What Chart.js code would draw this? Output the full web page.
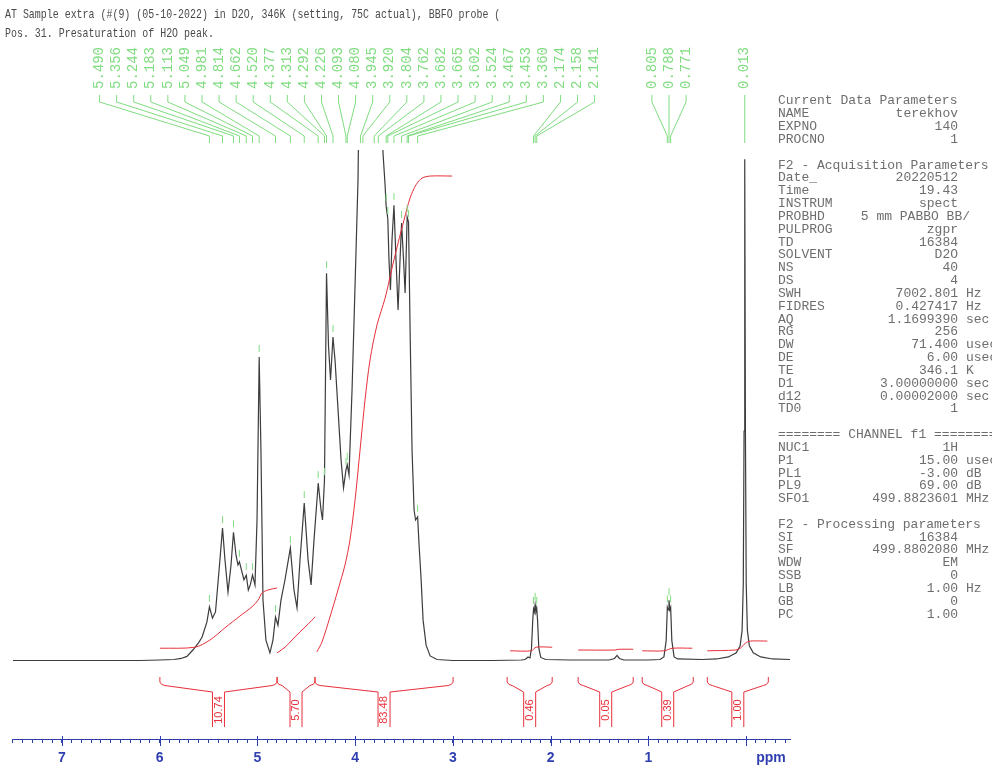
<!DOCTYPE html>
<html>
<head>
<meta charset="utf-8">
<script src="https://cdn.jsdelivr.net/npm/chart.js@4/dist/chart.umd.min.js"></script>
<style>
  html, body { margin: 0; padding: 0; background: #fff; }
  canvas { display: block; }
</style>
</head>
<body>
<canvas id="nmr" width="992" height="768"></canvas>
<script>
// 1H spectrum trace: chemical shift (ppm) and relative intensity
const tracePpm = [7.50, 7.0, 6.5, 6.2, 6.0, 5.85, 5.78, 5.72, 5.657, 5.60, 5.565, 5.516, 5.490, 5.459, 5.428, 5.387,
  5.356, 5.331, 5.300, 5.269, 5.244, 5.218, 5.198, 5.183, 5.157, 5.137, 5.113, 5.092, 5.072, 5.049, 5.024, 5.003,
  4.981, 4.963, 4.942, 4.912, 4.871, 4.840, 4.814, 4.789, 4.758, 4.717, 4.662, 4.625, 4.594, 4.563, 4.520, 4.481,
  4.450, 4.420, 4.377, 4.348, 4.333, 4.313, 4.292, 4.272, 4.251, 4.226, 4.205, 4.174, 4.143, 4.118, 4.093, 4.080,
  4.062, 4.031, 4.000, 3.970, 3.945, 3.920, 3.867, 3.804, 3.762, 3.714, 3.693, 3.682, 3.665, 3.653, 3.638, 3.622,
  3.602, 3.581, 3.560, 3.540, 3.524, 3.504, 3.488, 3.473, 3.467, 3.453, 3.437, 3.417, 3.396, 3.381, 3.360, 3.345,
  3.324, 3.304, 3.273, 3.232, 3.161, 3.0, 2.6, 2.3, 2.26, 2.23, 2.21, 2.195, 2.182, 2.174, 2.166, 2.158, 2.150,
  2.141, 2.133, 2.120, 2.10, 2.05, 1.8, 1.40, 1.345, 1.32, 1.295, 1.25, 1.0, 0.88, 0.84, 0.817, 0.805, 0.797,
  0.788, 0.780, 0.771, 0.759, 0.736, 0.70, 0.45, 0.30, 0.18, 0.10, 0.06, 0.040, 0.028, 0.020, 0.013, 0.006,
  -0.002, -0.014, -0.034, -0.074, -0.15, -0.27, -0.45];
const traceInt = [0.1, 0.1, 0.1, 0.1, 0.2, 0.3, 0.5, 0.9, 2.2, 3.6, 4.7, 7.6, 10.6, 8.4, 9.6, 18.8,
  26.0, 19.8, 13.5, 18.8, 25.2, 20.7, 18.8, 19.4, 17.4, 15.9, 16.8, 13.9, 14.9, 16.8, 14.9, 27.6,
  59.5, 41.3, 11.9, 4.1, 1.6, 4.1, 8.6, 7.0, 11.9, 15.9, 22.1, 13.9, 10.4, 19.8, 30.9, 19.8,
  14.9, 23.7, 34.8, 29.5, 27.6, 35.4, 75.9, 61.8, 55.0, 63.4, 58.9, 49.1, 39.3, 33.9, 37.4, 38.4,
  36.4, 53.0, 73.6, 94.0, 132, 136, 118, 138, 128, 99.4, 93.2, 89.0, 86.5, 78.5, 72.6, 82.4,
  89.2, 78.5, 68.7, 78.5, 85.7, 78.5, 72.0, 82.4, 86.9, 85.9, 64.8, 41.3, 29.5, 27.6, 28.2, 22.7,
  15.9, 8.0, 3.1, 1.0, 0.3, 0.1, 0.1, 0.2, 0.3, 0.8, 0.6, 2.5, 8.0, 10.2, 9.6, 11.0, 9.6,
  10.2, 8.0, 2.5, 0.7, 0.3, 0.2, 0.2, 0.5, 1.1, 0.5, 0.2, 0.2, 0.3, 0.8, 4.0, 10.5, 10.0,
  11.9, 10.0, 10.5, 4.0, 0.8, 0.4, 0.3, 0.4, 0.8, 1.6, 3.0, 6.0, 15, 45, 98.2, 45,
  15, 6.0, 3.0, 1.6, 0.8, 0.4, 0.3];

// Picked peaks (ppm)
const peakPpm = [5.490, 5.356, 5.244, 5.183, 5.113, 5.049, 4.981, 4.814, 4.662, 4.520, 4.377, 4.313, 4.292,
  4.226, 4.093, 4.080, 3.945, 3.920, 3.804, 3.762, 3.682, 3.665, 3.602, 3.524, 3.467, 3.453, 3.360,
  2.174, 2.158, 2.141, 0.805, 0.788, 0.771, 0.013];

// Integration regions (ppm) and their integral values
const integralFrom = [5.997, 4.798, 4.410, 2.444, 1.717, 1.062, 0.396];
const integralTo   = [4.798, 4.410, 2.997, 1.983, 1.154, 0.540, -0.228];
const integralValue = [10.74, 5.70, 83.48, 0.46, 0.05, 0.39, 1.00];

// Running integral curves over each region
const integralCurvePpm = [
  [5.997, 5.638, 5.485, 5.331, 5.178, 5.055, 4.993, 4.952, 4.891, 4.798],
  [4.798, 4.716, 4.645, 4.563, 4.481, 4.410],
  [4.390, 4.339, 4.257, 4.175, 4.103, 4.052, 4.000, 3.949, 3.898, 3.847, 3.775, 3.693, 3.622, 3.560, 3.499,
   3.437, 3.376, 3.314, 3.232, 3.007],
  [2.413, 2.198, 2.147, 1.983],
  [1.717, 1.340, 1.300, 1.154],
  [1.062, 0.836, 0.754, 0.550],
  [0.396, 0.110, 0.058, 0.007, -0.044, -0.218]
];
const integralCurveVal = [
  [2.5, 2.7, 4.1, 6.5, 8.8, 10.6, 11.9, 13.3, 13.9, 14.3],
  [1.6, 2.7, 4.1, 5.7, 7.2, 8.6],
  [1.8, 3.7, 8.6, 13.9, 18.8, 23.7, 31.5, 41.3, 51.1, 58.9, 65.8, 71.0, 76.9, 81.8, 86.3, 90.6, 93.2, 94.5,
   94.9, 94.9],
  [2.0, 2.0, 2.7, 2.7],
  [2.15, 2.15, 2.3, 2.3],
  [2.0, 2.0, 2.5, 2.5],
  [2.0, 2.15, 2.5, 3.5, 3.9, 3.9]
];

// Header text and acquisition / processing parameters
const titleLines = [
  'AT Sample extra (#(9) (05-10-2022) in D2O, 346K (setting, 75C actual), BBFO probe (',
  'Pos. 31. Presaturation of H2O peak.'
];
const paramNames = ['Current Data Parameters', 'NAME', 'EXPNO', 'PROCNO', '',
  'F2 - Acquisition Parameters', 'Date_', 'Time', 'INSTRUM', 'PROBHD', 'PULPROG', 'TD', 'SOLVENT', 'NS', 'DS',
  'SWH', 'FIDRES', 'AQ', 'RG', 'DW', 'DE', 'TE', 'D1', 'd12', 'TD0', '',
  '======== CHANNEL f1 ========', 'NUC1', 'P1', 'PL1', 'PL9', 'SFO1', '',
  'F2 - Processing parameters', 'SI', 'SF', 'WDW', 'SSB', 'LB', 'GB', 'PC'];
const paramValues = ['', 'terekhov', '140', '1', '',
  '', '20220512', '19.43', 'spect', '5 mm PABBO BB/', 'zgpr', '16384', 'D2O', '40', '4',
  '7002.801', '0.427417', '1.1699390', '256', '71.400', '6.00', '346.1', '3.00000000', '0.00002000', '1', '',
  '', '1H', '15.00', '-3.00', '69.00', '499.8823601', '',
  '', '16384', '499.8802080', 'EM', '0', '1.00', '0', '1.00'];
const paramUnits = ['', '', '', '', '',
  '', '', '', '', '', '', '', '', '', '',
  'Hz', 'Hz', 'sec', '', 'usec', 'usec', 'K', 'sec', 'sec', '', '',
  '', '', 'usec', 'dB', 'dB', 'MHz', '',
  '', '', 'MHz', '', '', 'Hz', '', ''];

const MONO = '"Liberation Mono", "DejaVu Sans Mono", monospace';
const SANS = '"Liberation Sans", Arial, sans-serif';
const AXIS_BLUE = '#2f3fb0';
const LABEL_GREEN = '#80dc80';
const INT_RED = '#e8303a';

function valueAt(ppm) {
  const i = tracePpm.findIndex(p => Math.abs(p - ppm) < 1e-9);
  return i >= 0 ? traceInt[i] : null;
}

// Spread overlapping peak labels into evenly spaced, centred groups
function spreadLabels(xs, gap) {
  let groups = xs.map((x, i) => ({ idx: [i], c: x }));
  let merged = true;
  while (merged) {
    merged = false;
    for (let i = 0; i < groups.length - 1; i++) {
      const a = groups[i], b = groups[i + 1];
      const aRight = a.c + gap * (a.idx.length - 1) / 2;
      const bLeft = b.c - gap * (b.idx.length - 1) / 2;
      if (bLeft - aRight < gap) {
        const idx = a.idx.concat(b.idx);
        const c = idx.reduce((s, k) => s + xs[k], 0) / idx.length;
        groups.splice(i, 2, { idx, c });
        merged = true;
        break;
      }
    }
  }
  const out = new Array(xs.length);
  groups.forEach(g => g.idx.forEach((k, j) => { out[k] = g.c + gap * (j - (g.idx.length - 1) / 2); }));
  return out;
}

const decorations = {
  id: 'decorations',
  beforeDraw(chart) {
    const ctx = chart.ctx;
    ctx.save();
    ctx.fillStyle = '#fff';
    ctx.fillRect(0, 0, chart.width, chart.height);
    ctx.restore();
  },
  afterDraw(chart) {
    const ctx = chart.ctx;
    const xs = chart.scales.x, ys = chart.scales.y;
    const y0 = ys.getPixelForValue(0);

    // title
    ctx.save();
    ctx.fillStyle = '#4a4a4a';
    ctx.font = '13px ' + MONO;
    ctx.textBaseline = 'middle';
    titleLines.forEach((t, i) => {
      ctx.save();
      ctx.translate(5, 15 + i * 19);
      ctx.scale(0.765, 1);
      ctx.fillText(t, 0, 0);
      ctx.restore();
    });
    ctx.restore();

    // parameter panel
    ctx.save();
    ctx.fillStyle = '#6e6e6e';
    ctx.font = '13px ' + MONO;
    ctx.textBaseline = 'middle';
    paramNames.forEach((name, i) => {
      const y = 101 + i * 12.83;
      ctx.textAlign = 'left';
      ctx.fillText(name, 778, y);
      if (paramValues[i]) {
        ctx.textAlign = 'right';
        ctx.fillText(paramValues[i], paramUnits[i] || paramValues[i].length < 12 ? 958 : 970, y);
      }
      if (paramUnits[i]) {
        ctx.textAlign = 'left';
        ctx.fillText(paramUnits[i], 966, y);
      }
    });
    ctx.restore();

    // peak labels with leader lines
    const peakX = peakPpm.map(p => xs.getPixelForValue(p));
    const labelX = spreadLabels(peakX, 17.07);
    ctx.save();
    ctx.strokeStyle = LABEL_GREEN;
    ctx.fillStyle = LABEL_GREEN;
    ctx.lineWidth = 1;
    ctx.font = '14px ' + MONO;
    peakPpm.forEach((p, i) => {
      const lx = labelX[i], px = peakX[i];
      ctx.save();
      ctx.translate(lx, 89);
      ctx.rotate(-Math.PI / 2);
      ctx.textAlign = 'left';
      ctx.textBaseline = 'middle';
      ctx.fillText(p.toFixed(3), 0, 0);
      ctx.restore();
      ctx.beginPath();
      ctx.moveTo(lx, 95);
      ctx.lineTo(lx, 102);
      ctx.lineTo(px, 136);
      ctx.lineTo(px, 143);
      ctx.stroke();
      // marker above the picked peak
      const v = valueAt(p);
      if (v !== null && v < 95) {
        const py = ys.getPixelForValue(v);
        ctx.beginPath();
        ctx.moveTo(px, py - 12);
        ctx.lineTo(px, py - 5);
        ctx.stroke();
      }
    });
    ctx.restore();

    // integral brackets and values
    ctx.save();
    ctx.strokeStyle = INT_RED;
    ctx.fillStyle = INT_RED;
    ctx.lineWidth = 1;
    ctx.font = '11px ' + SANS;
    integralFrom.forEach((f, i) => {
      const x1 = xs.getPixelForValue(f), x2 = xs.getPixelForValue(integralTo[i]);
      const xc = (x1 + x2) / 2, hw = 6;
      ctx.beginPath();
      ctx.moveTo(x1, y0 + 16); ctx.lineTo(x1, y0 + 21);
      ctx.quadraticCurveTo(x1 + 1, y0 + 24, x1 + 5, y0 + 24.5);
      ctx.lineTo(xc - hw, y0 + 31); ctx.lineTo(xc - hw, y0 + 66);
      ctx.moveTo(x2, y0 + 16); ctx.lineTo(x2, y0 + 21);
      ctx.quadraticCurveTo(x2 - 1, y0 + 24, x2 - 5, y0 + 24.5);
      ctx.lineTo(xc + hw, y0 + 31); ctx.lineTo(xc + hw, y0 + 66);
      ctx.stroke();
      ctx.save();
      ctx.translate(xc, y0 + 49);
      ctx.rotate(-Math.PI / 2);
      ctx.textAlign = 'center';
      ctx.textBaseline = 'middle';
      ctx.fillText(integralValue[i].toFixed(2), 0, 0);
      ctx.restore();
    });
    ctx.restore();

    // major ticks and unit label
    ctx.save();
    ctx.strokeStyle = AXIS_BLUE;
    ctx.lineWidth = 1;
    const yAxis = chart.chartArea.bottom;
    for (let v = 0; v <= 7; v++) {
      const x = Math.round(xs.getPixelForValue(v)) + 0.5;
      ctx.beginPath();
      ctx.moveTo(x, yAxis - 3);
      ctx.lineTo(x, yAxis + 7);
      ctx.stroke();
    }
    ctx.fillStyle = AXIS_BLUE;
    ctx.font = 'bold 14px ' + SANS;
    ctx.textAlign = 'center';
    ctx.textBaseline = 'middle';
    ctx.fillText('ppm', 771, 758);
    ctx.restore();
  }
};

const datasets = [];
integralCurvePpm.forEach((ppm, r) => {
  datasets.push({
    data: ppm.map((p, i) => ({ x: p, y: integralCurveVal[r][i] })),
    borderColor: INT_RED,
    borderWidth: 1,
    pointRadius: 0,
    tension: 0.3
  });
});
datasets.push({
  data: tracePpm.map((p, i) => ({ x: p, y: traceInt[i] })),
  borderColor: '#3c3c3c',
  borderWidth: 1.2,
  pointRadius: 0,
  tension: 0
});

new Chart(document.getElementById('nmr'), {
  type: 'line',
  data: { datasets },
  options: {
    responsive: false,
    animation: false,
    devicePixelRatio: 1,
    layout: { padding: { top: 150, left: 12, right: 202, bottom: 0 } },
    plugins: { legend: { display: false }, tooltip: { enabled: false }, title: { display: false } },
    scales: {
      x: {
        type: 'linear',
        reverse: true,
        min: -0.45,
        max: 7.51,
        afterFit(scale) { scale.height = 29; },
        border: { color: AXIS_BLUE, width: 1 },
        grid: { drawOnChartArea: false, drawTicks: true, tickLength: 4, color: AXIS_BLUE },
        ticks: {
          stepSize: 0.1,
          includeBounds: false,
          autoSkip: false,
          maxRotation: 0,
          padding: 7,
          color: AXIS_BLUE,
          font: { family: SANS, size: 14, weight: 'bold' },
          callback(v) {
            const r = Math.round(v * 10) / 10;
            return (Number.isInteger(r) && r > 0) ? String(r) : '';
          }
        }
      },
      y: { display: false, min: -15.26, max: 100 }
    }
  },
  plugins: [decorations]
});
</script>
</body>
</html>
